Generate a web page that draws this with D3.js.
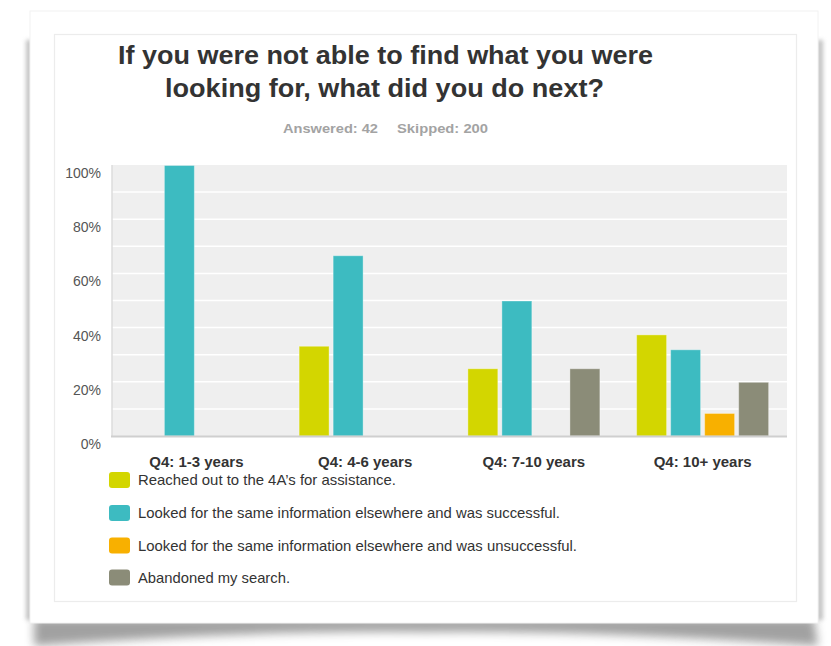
<!DOCTYPE html>
<html>
<head>
<meta charset="utf-8">
<script src="https://cdn.jsdelivr.net/npm/d3@7/dist/d3.min.js"></script>
<style>
  html, body { margin: 0; padding: 0; background: #fff; }
  svg { display: block; font-family: "Liberation Sans", Arial, Helvetica, sans-serif; }
</style>
</head>
<body>
<div id="chart"></div>
<script>
// データ
var categories = ["Q4: 1-3 years", "Q4: 4-6 years", "Q4: 7-10 years", "Q4: 10+ years"];
var seriesNames = [
    "Reached out to the 4A\u2019s for assistance.",
    "Looked for the same information elsewhere and was successful.",
    "Looked for the same information elsewhere and was unsuccessful.",
    "Abandoned my search."
];
var seriesColors = ["#d3d600", "#3dbbc1", "#f8b000", "#8b8c78"];
// カテゴリごとの値 (割合)
var reachedOut   = [0, 0.333, 0.25, 0.375];
var successful   = [1.0, 0.667, 0.50, 0.32];
var unsuccessful = [0, 0, 0, 0.085];
var abandoned    = [0, 0, 0.25, 0.20];
var yTicks = [0, 0.2, 0.4, 0.6, 0.8, 1.0];
var gridTicks = [0.1, 0.2, 0.3, 0.4, 0.5, 0.6, 0.7, 0.8, 0.9];

var seriesValues = [reachedOut, successful, unsuccessful, abandoned];

var W = 831, H = 646;
var svg = d3.select("#chart").append("svg").attr("width", W).attr("height", H);
var defs = svg.append("defs");

defs.append("filter").attr("id", "blur6").attr("x", "-10%").attr("y", "-100%").attr("width", "120%").attr("height", "300%")
    .append("feGaussianBlur").attr("stdDeviation", 5);
defs.append("filter").attr("id", "blur2").attr("x", "-100%").attr("y", "-10%").attr("width", "300%").attr("height", "120%")
    .append("feGaussianBlur").attr("stdDeviation", 2);

//カードの影
svg.append("path")
    .attr("d", "M34,618 L814,618 L818,646 Q600,630 426,632 Q250,630 34,646 Z")
    .attr("fill", "#555").attr("opacity", 0.55)
    .attr("filter", "url(#blur6)");
svg.append("rect").attr("x", 26).attr("y", 40).attr("width", 6).attr("height", 580)
    .attr("fill", "#999").attr("opacity", 0.6).attr("filter", "url(#blur2)");
svg.append("rect").attr("x", 817).attr("y", 40).attr("width", 6).attr("height", 580)
    .attr("fill", "#999").attr("opacity", 0.6).attr("filter", "url(#blur2)");

//カード
svg.append("rect").attr("x", 30).attr("y", 11).attr("width", 788).attr("height", 612)
    .attr("fill", "#fff").attr("stroke", "#f2f2f2");
svg.append("rect").attr("x", 54.5).attr("y", 34.5).attr("width", 742).attr("height", 567)
    .attr("fill", "#fff").attr("stroke", "#ececec").attr("stroke-width", 1.2);

//タイトル
svg.append("text").attr("x", 385.5).attr("y", 64).attr("text-anchor", "middle")
    .attr("font-size", 25).attr("font-weight", "bold").attr("fill", "#333")
    .attr("textLength", 535).attr("lengthAdjust", "spacingAndGlyphs")
    .text("If you were not able to find what you were");
svg.append("text").attr("x", 384.5).attr("y", 97).attr("text-anchor", "middle")
    .attr("font-size", 25).attr("font-weight", "bold").attr("fill", "#333")
    .attr("textLength", 439).attr("lengthAdjust", "spacingAndGlyphs")
    .text("looking for, what did you do next?");

svg.append("text").attr("x", 283).attr("y", 133).attr("font-size", 13).attr("font-weight", "bold")
    .attr("fill", "#a3a3a3").attr("textLength", 95).attr("lengthAdjust", "spacingAndGlyphs")
    .text("Answered: 42");
svg.append("text").attr("x", 397).attr("y", 133).attr("font-size", 13).attr("font-weight", "bold")
    .attr("fill", "#a3a3a3").attr("textLength", 91).attr("lengthAdjust", "spacingAndGlyphs")
    .text("Skipped: 200");

//プロットエリア
var plot = { left: 112, right: 787, top: 165, bottom: 436 };

var yScale = d3.scaleLinear().domain([0, 1]).range([plot.bottom, plot.top]);
var xScale = d3.scaleBand().domain(categories).range([plot.left, plot.right]);
var innerScale = d3.scaleBand().domain(d3.range(seriesNames.length)).range([-66.5, 66.5]).paddingInner(0.09);

svg.append("rect").attr("x", plot.left).attr("y", plot.top)
    .attr("width", plot.right - plot.left).attr("height", plot.bottom - plot.top)
    .attr("fill", "#efefef");

svg.append("g").selectAll("line").data(gridTicks).enter().append("line")
    .attr("x1", plot.left).attr("x2", plot.right)
    .attr("y1", function (d) { return yScale(d); })
    .attr("y2", function (d) { return yScale(d); })
    .attr("stroke", "#fff").attr("stroke-width", 1.5);

//y軸ラベル
svg.append("g").selectAll("text").data(yTicks).enter().append("text")
    .attr("x", 101).attr("y", function (d) { return yScale(d) + 8; })
    .attr("dy", "0.35em").attr("text-anchor", "end")
    .attr("font-size", 14).attr("fill", "#555")
    .text(function (d) { return Math.round(d * 100) + "%"; });

//棒グラフ
var barData = [];
categories.forEach(function (cat, ci) {
    seriesValues.forEach(function (vals, si) {
        if (vals[ci] > 0) barData.push({ cat: cat, s: si, v: vals[ci] });
    });
});

svg.append("g").selectAll("rect").data(barData).enter().append("rect")
    .attr("x", function (d) { return xScale(d.cat) + xScale.bandwidth() / 2 + innerScale(d.s) + 0.5; })
    .attr("y", function (d) { return yScale(d.v) + 0.5; })
    .attr("width", innerScale.bandwidth() - 1)
    .attr("height", function (d) { return yScale(0) - yScale(d.v) - 0.5; })
    .attr("fill", function (d) { return seriesColors[d.s]; })
    .attr("stroke", "rgba(255,255,255,0.35)").attr("stroke-width", 1);

//軸線
svg.append("line").attr("x1", plot.left).attr("x2", plot.left).attr("y1", plot.top).attr("y2", plot.bottom)
    .attr("stroke", "#dcdcdc").attr("stroke-width", 1.5);
svg.append("line").attr("x1", plot.left - 1).attr("x2", plot.right).attr("y1", plot.bottom + 0.5).attr("y2", plot.bottom + 0.5)
    .attr("stroke", "#cfcfcf").attr("stroke-width", 2);

//x軸ラベル
svg.append("g").selectAll("text").data(categories).enter().append("text")
    .attr("x", function (d) { return xScale(d) + xScale.bandwidth() / 2; })
    .attr("y", 467).attr("text-anchor", "middle")
    .attr("font-size", 15).attr("font-weight", "bold").attr("fill", "#333")
    .text(function (d) { return d; });

//凡例
var legendY = [480, 513, 545.5, 577.5];
var legendLen = [258, 422, 439, 152];
var legend = svg.append("g").selectAll("g").data(seriesNames).enter().append("g")
    .attr("transform", function (d, i) { return "translate(109," + legendY[i] + ")"; });
legend.append("rect").attr("x", 0).attr("y", -8).attr("width", 21).attr("height", 16).attr("rx", 3)
    .attr("fill", function (d, i) { return seriesColors[i]; });
legend.append("text").attr("x", 29).attr("y", 0).attr("dy", "0.35em")
    .attr("font-size", 14.5).attr("fill", "#333")
    .attr("textLength", function (d, i) { return legendLen[i]; }).attr("lengthAdjust", "spacingAndGlyphs")
    .text(function (d) { return d; });
</script>
</body>
</html>
